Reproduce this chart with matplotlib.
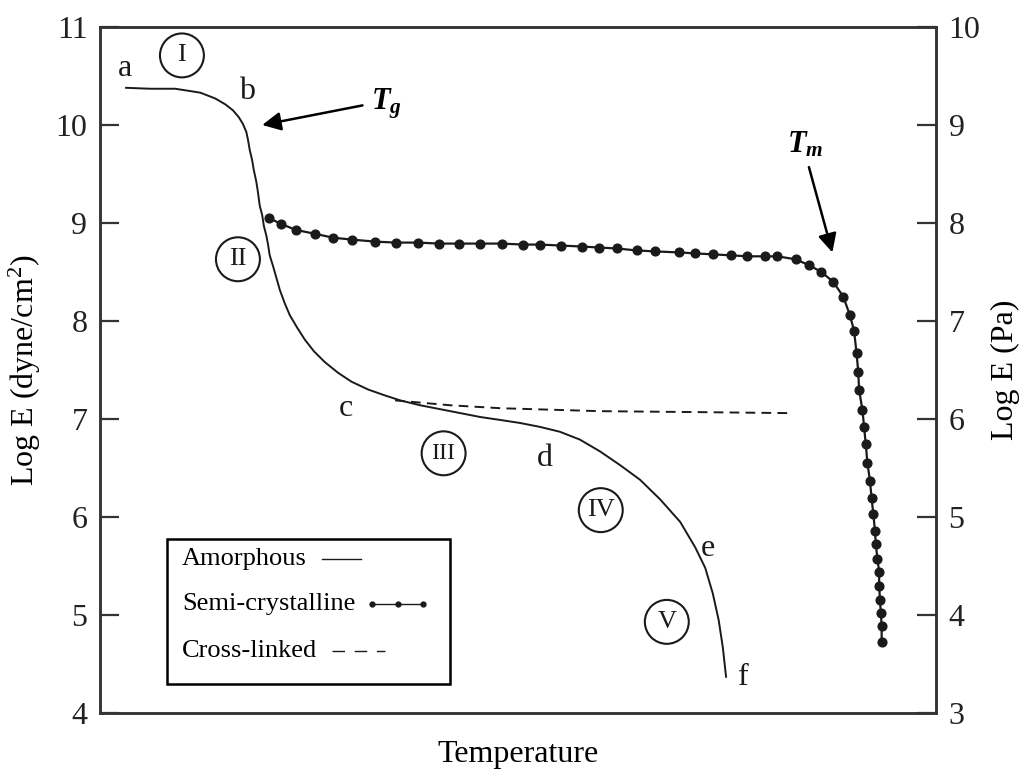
import matplotlib
matplotlib.use("Agg")
import matplotlib.pyplot as plt
from matplotlib.patches import Rectangle
from matplotlib.lines import Line2D

plt.rcParams['font.family'] = ['Liberation Serif', 'DejaVu Serif']
plt.rcParams['mathtext.fontset'] = 'custom'
plt.rcParams['mathtext.rm'] = 'Liberation Serif'
plt.rcParams['mathtext.it'] = 'Liberation Serif:style=italic:weight=bold'

# ---- data (temperature in arbitrary units 0-100, log E in dyne/cm^2) ----
amorph_T = [3.0, 6.0, 9.0, 12.0, 13.8, 15.0, 15.9, 16.6, 17.1, 17.5, 17.7, 17.9,
            18.2, 18.4, 18.7, 18.9, 19.1, 19.4, 19.6, 19.9, 20.1, 20.3, 20.7,
            21.1, 21.5, 22.1, 22.7, 23.6, 24.5, 25.6, 26.9, 28.5, 30.1, 32.1,
            34.1, 35.9, 38.3, 40.7, 43.1, 45.5, 47.9, 50.2, 52.6, 55.0, 57.4,
            59.8, 62.2, 64.6, 67.0, 69.4, 71.2, 72.4, 73.3, 74.0, 74.5, 74.9]
amorph_E = [10.38, 10.37, 10.37, 10.33, 10.27, 10.21, 10.15, 10.08, 10.01, 9.93,
            9.85, 9.75, 9.64, 9.54, 9.42, 9.31, 9.18, 9.08, 8.97, 8.87, 8.78,
            8.67, 8.56, 8.44, 8.32, 8.18, 8.06, 7.93, 7.81, 7.69, 7.58, 7.47,
            7.38, 7.30, 7.24, 7.19, 7.14, 7.10, 7.06, 7.02, 6.99, 6.96, 6.92,
            6.87, 6.79, 6.67, 6.53, 6.38, 6.18, 5.95, 5.69, 5.48, 5.22, 4.95,
            4.67, 4.36]

semi_T = [20.2, 21.7, 23.4, 25.7, 27.9, 30.2, 32.9, 35.4, 38.0, 40.6, 43.0, 45.4,
          48.1, 50.6, 52.6, 55.1, 57.6, 59.7, 61.8, 64.2, 66.4, 69.2, 71.2, 73.3,
          75.5, 77.4, 79.6, 81.0, 83.2, 84.8, 86.3, 87.7, 88.9, 89.7, 90.2, 90.5,
          90.7, 90.8, 91.2, 91.4, 91.6, 91.8, 92.1, 92.3, 92.5, 92.7, 92.8, 93.0,
          93.2, 93.2, 93.3, 93.4, 93.5, 93.5]
semi_E = [9.05, 8.99, 8.93, 8.89, 8.85, 8.83, 8.81, 8.80, 8.80, 8.79, 8.79, 8.79,
          8.79, 8.78, 8.78, 8.77, 8.76, 8.75, 8.74, 8.72, 8.71, 8.70, 8.69, 8.68,
          8.67, 8.66, 8.66, 8.66, 8.63, 8.57, 8.50, 8.40, 8.25, 8.06, 7.90, 7.67,
          7.48, 7.30, 7.09, 6.92, 6.74, 6.55, 6.37, 6.19, 6.03, 5.86, 5.72, 5.57,
          5.44, 5.30, 5.15, 5.02, 4.89, 4.72]

cross_T = [35.3, 41.9, 47.9, 59.8, 71.8, 82.5]
cross_E = [7.19, 7.14, 7.11, 7.08, 7.07, 7.06]

left_ticks = [4, 5, 6, 7, 8, 9, 10, 11]
right_ticks = [3, 4, 5, 6, 7, 8, 9, 10]

point_labels = ['a', 'b', 'c', 'd', 'e', 'f']
point_T = [3.0, 17.6, 29.4, 53.2, 72.7, 77.0]
point_E = [10.58, 10.34, 7.11, 6.60, 5.68, 4.36]

region_labels = ['I', 'II', 'III', 'IV', 'V']
region_T = [9.8, 16.5, 41.1, 59.9, 67.8]
region_E = [10.71, 8.63, 6.65, 6.07, 4.93]

legend_labels = ['Amorphous', 'Semi-crystalline', 'Cross-linked']

# ---- figure ----
fig = plt.figure(figsize=(10.24, 7.69), dpi=100)
ax = fig.add_axes([100/1024, 1-713/769, 836/1024, 686/769])
ax.set_xlim(0, 100)
ax.set_ylim(4, 11)

ink = '#1a1a1a'
ax.plot(amorph_T, amorph_E, color=ink, lw=1.4, solid_capstyle='butt',
        solid_joinstyle='round')
ax.plot(semi_T, semi_E, color=ink, lw=1.6, marker='o', ms=6.3)
ax.plot(cross_T, cross_E, color=ink, lw=1.4, dashes=(5, 3.2))

for s in ax.spines.values():
    s.set_linewidth(1.8)
    s.set_color('#333333')

ax.set_xticks([])
ax.set_yticks(left_ticks)
ax.tick_params(axis='y', direction='in', length=13.5, width=1.6, color='#333333',
               labelsize=23, pad=9, labelcolor='#222222')

ax2 = ax.twinx()
ax2.set_ylim(3, 10)
ax2.set_yticks(right_ticks)
ax2.tick_params(axis='y', direction='in', length=13.5, width=1.6, color='#333333',
                labelsize=23, pad=9, labelcolor='#222222')
for s in ax2.spines.values():
    s.set_linewidth(1.8)
    s.set_color('#333333')

ax.set_ylabel('Log E (dyne/cm$^2$)', fontsize=23)
ax.yaxis.set_label_coords(-0.068, 0.5)
ax2.set_ylabel('Log E (Pa)', fontsize=23)
ax2.yaxis.set_label_coords(1.066, 0.5)
ax.set_xlabel('Temperature', fontsize=23)
ax.xaxis.set_label_coords(0.5, -0.04)
ax.xaxis.label.set_va('top')

for lab, t, e in zip(point_labels, point_T, point_E):
    ax.text(t, e, lab, fontsize=23, ha='center', va='center', color=ink)

ax.scatter(region_T, region_E, s=1000, facecolors='none', edgecolors=ink,
           linewidths=1.5, zorder=3)
for lab, t, e in zip(region_labels, region_T, region_E):
    fs = 19 if len(lab) < 3 else 17
    ax.text(t, e, lab, fontsize=fs, ha='center', va='center', color=ink)

# Tg / Tm annotations
ax.annotate('', xy=(19.4, 10.0), xytext=(31.4, 10.20),
            arrowprops=dict(arrowstyle='-|>', lw=1.8, color='black',
                            mutation_scale=28, shrinkA=0, shrinkB=0))
ax.text(32.4, 10.22, '$T_g$', fontsize=22, ha='left', va='center')
ax.annotate('', xy=(87.6, 8.70), xytext=(84.8, 9.57),
            arrowprops=dict(arrowstyle='-|>', lw=1.8, color='black',
                            mutation_scale=28, shrinkA=0, shrinkB=0))
ax.text(84.3, 9.80, '$T_m$', fontsize=22, ha='center', va='center')

# legend box
ax.add_patch(Rectangle((0.0801, 0.0423), 0.3386, 0.2113, transform=ax.transAxes,
                       facecolor='white', edgecolor='black', lw=1.8, zorder=5))
ys = [0.2245, 0.1589, 0.0904]
for lab, y in zip(legend_labels, ys):
    ax.text(0.0981, y, lab, transform=ax.transAxes, fontsize=19, ha='left',
            va='center', zorder=6)
ax.add_line(Line2D([0.2656, 0.3122], [0.2245, 0.2245], transform=ax.transAxes,
                   color=ink, lw=1.0, zorder=6))
ax.add_line(Line2D([0.3254, 0.3559, 0.3864], [0.1589, 0.1589, 0.1589],
                   transform=ax.transAxes, color=ink, lw=1.0, marker='o', ms=3.5,
                   zorder=6))
ax.add_line(Line2D([0.2775, 0.3409], [0.0904, 0.0904], transform=ax.transAxes,
                   color=ink, lw=1.0, dashes=(9, 7), zorder=6))

fig.savefig('out.png', dpi=100)
